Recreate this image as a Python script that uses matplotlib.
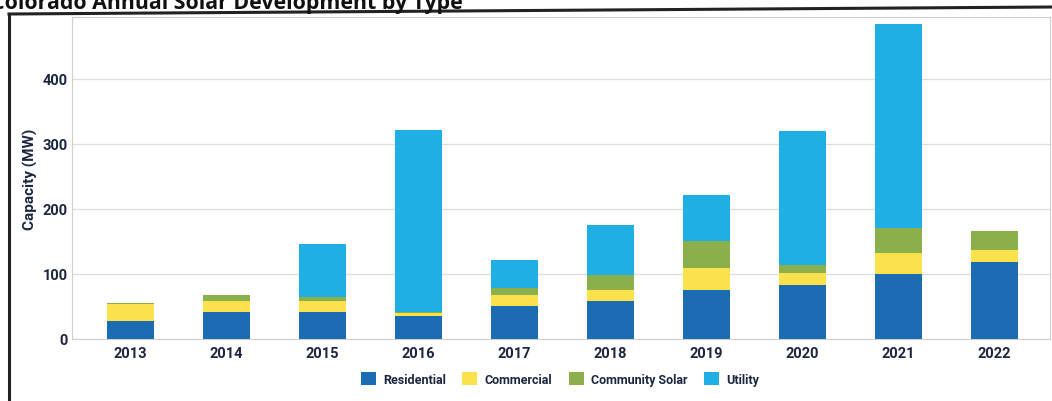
import matplotlib.pyplot as plt
from matplotlib.lines import Line2D
import numpy as np

years = ['2013', '2014', '2015', '2016', '2017', '2018', '2019', '2020', '2021', '2022']
residential = [27, 41, 41, 36, 51, 58, 75, 83, 100, 118]
commercial = [27, 18, 17, 4, 16, 18, 34, 18, 32, 19]
community = [1.5, 8, 6, 1, 12, 22, 42, 13, 39, 29]
utility = [0, 0, 82, 280, 43, 77, 71, 206, 314, 0]

series = [('Residential', residential, '#1c6cb4'),
          ('Commercial', commercial, '#fbe14c'),
          ('Community Solar', community, '#8bb04b'),
          ('Utility', utility, '#20afe5')]

navy = '#1c2640'
plt.rcParams['font.family'] = ['Roboto', 'DejaVu Sans']

fig = plt.figure(figsize=(10.52, 4.02), dpi=100)
ax = fig.add_axes([72 / 1052, 1 - 340 / 402, (1050 - 72) / 1052, (340 - 18) / 402])

x = np.arange(len(years))
bottom = np.zeros(len(years))
for name, vals, color in series:
    vals = np.array(vals, dtype=float)
    ax.bar(x, vals, width=0.49, bottom=bottom, color=color, label=name, zorder=3)
    bottom += vals

ax.set_xlim(-0.61, 9.58)
ax.set_ylim(0, 495)
ax.set_yticks([0, 100, 200, 300, 400])
ax.set_xticks(x)
ax.set_xticklabels(years)
ax.tick_params(axis='both', length=0, labelcolor=navy)
ax.tick_params(axis='y', pad=3, labelsize=10.5)
ax.tick_params(axis='x', pad=5, labelsize=10.5)
for lab in ax.get_xticklabels() + ax.get_yticklabels():
    lab.set_fontweight('bold')
ax.grid(axis='y', color='#dedede', linewidth=0.9, zorder=0)
for sp in ax.spines.values():
    sp.set_color('#d0d0d0')
    sp.set_linewidth(0.8)

ax.set_ylabel('Capacity (MW)', fontsize=11, fontweight='bold', color=navy, labelpad=3)

ax.legend(loc='center', bbox_to_anchor=(560 / 1052, 1 - 380 / 402), bbox_transform=fig.transFigure,
          ncol=4, frameon=False, handlelength=1.2, handleheight=1.2,
          handletextpad=0.6, columnspacing=1.3,
          prop={'size': 9, 'weight': 'bold'}, labelcolor=navy)

# page frame and heading above the chart
fig.add_artist(Line2D([9 / 1052, 9 / 1052], [0, 1 - 15 / 402], transform=fig.transFigure,
                      color='#222222', linewidth=2.2))
fig.add_artist(Line2D([9 / 1052, 1.0], [1 - 15 / 402, 1 - 8 / 402], transform=fig.transFigure,
                      color='#222222', linewidth=2.2))
fig.text(463 / 1052, 1 - 9 / 402, 'Colorado Annual Solar Development by Type',
         ha='right', va='baseline', fontsize=15.4, fontweight='bold', color='#111111',
         family=['Open Sans', 'DejaVu Sans'])

fig.savefig('out.png', dpi=100)
